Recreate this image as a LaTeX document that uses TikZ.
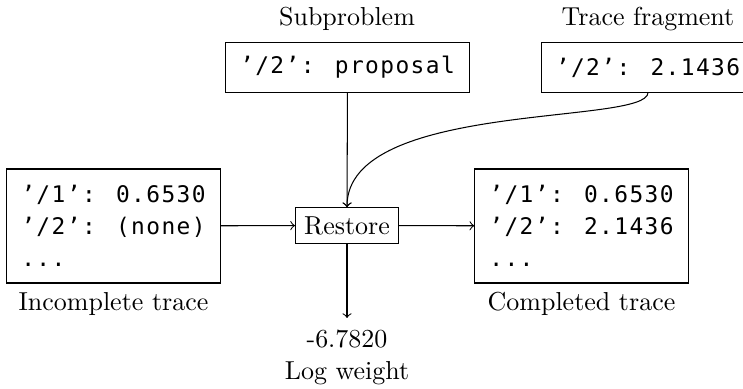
\documentclass[tikz,border=0pt]{standalone}
\usepackage{fontspec}
\newfontfamily\tracefont[LetterSpace=6.2]{DejaVu Sans Mono}

\begin{document}
\begin{tikzpicture}[x=0.385pt,y=-0.385pt,every node/.style={align=left},
  box/.style={draw, font=\tracefont\fontsize{8.8}{12.4}\selectfont, inner xsep=5.6pt, minimum height=18.9pt},
  tracebox/.style={box, minimum width=80.5pt, minimum height=43.9pt},
  caption/.style={anchor=base, align=center}]
\useasboundingbox (0,0) rectangle (743,389);
\node[tracebox] (incomplete) at (113.5,226) {’/1’: 0.6530\\’/2’: (none)\\...};
\node[draw] (restore) at (347,225.5) {Restore};
\node[tracebox] (completed) at (581.5,226) {’/1’: 0.6530\\’/2’: 2.1436\\...};
\node[box] (subprob) at (347.5,67.5) {’/2’: proposal};
\node[box] (fragment) at (648,67.5) {’/2’: 2.1436};
\node[caption, inner ysep=4.6pt] (weight) at (347,348) {-6.7820};
\node[caption] at (347,380) {Log weight};
\node[caption] at (347,26) {Subproblem};
\node[caption] at (648,26) {Trace fragment};
\node[caption] at (113.5,311) {Incomplete trace};
\node[caption] at (581.5,311) {Completed trace};
\draw[->] (incomplete) -- (restore);
\draw[->] (restore) -- (completed);
\draw[->] (subprob) -- (restore);
\draw[->] (restore) -- (weight);
\draw[->] (fragment.south) .. controls +(0,33) and +(0,-107) .. (restore.north);
\end{tikzpicture}
\end{document}
